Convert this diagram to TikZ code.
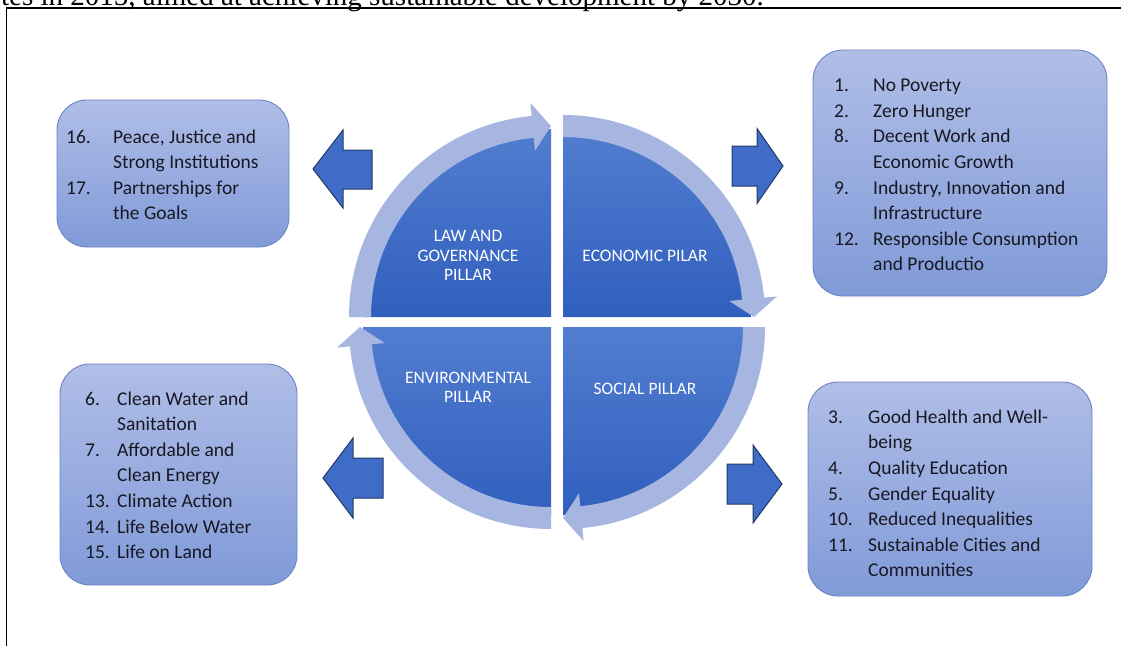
\documentclass[tikz,border=0pt]{standalone}
\usepackage{fontspec}
\setmainfont{Carlito}
\newfontfamily\serifdoc{Liberation Serif}
\definecolor{quadtop}{RGB}{82,125,208}
\definecolor{quadbot}{RGB}{48,95,189}
\definecolor{ringcol}{RGB}{166,182,224}
\definecolor{boxtop}{RGB}{176,190,231}
\definecolor{boxbot}{RGB}{128,154,216}
\definecolor{boxline}{RGB}{108,132,196}
\definecolor{arrfill}{RGB}{62,108,198}
\definecolor{arrline}{RGB}{36,56,102}
\definecolor{txt}{RGB}{24,24,34}
\begin{document}
\begin{tikzpicture}[x=1pt,y=1pt,
  box/.style={draw=boxline, line width=0.9pt, rounded corners=30pt, top color=boxtop, bottom color=boxbot, inner sep=0pt},
  lst/.style={anchor=base west, inner sep=0pt, text=txt, font=\fontsize{19.5}{25.6}\selectfont},
  lbl/.style={anchor=base, inner sep=0pt, text=white, font=\fontsize{17.5}{19.5}\selectfont},
  quad/.style={top color=quadtop, bottom color=quadbot},
  ring/.style={fill=ringcol},
  blk/.style={fill=arrfill, draw=arrline, line width=1pt, line join=miter}
]
\useasboundingbox (0,0) rectangle (1121,-646);

% cut-off caption line and frame
\node[anchor=base east, inner sep=0pt, font=\serifdoc\fontsize{29}{34}\selectfont] (cap) at (764,-5) {tes in 2015, aimed at achieving sustainable development by 2030.};
\draw[line width=1.3pt] (6.5,-646) -- (6.5,-8) -- (1121,-8);

% quadrants
\shade[quad] (551,-317) -- ++(180:188pt) arc[start angle=180, end angle=90, radius=188pt] -- cycle;
\shade[quad] (563,-317) -- ++(90:188pt) arc[start angle=90, end angle=0, radius=188pt] -- cycle;
\shade[quad] (563,-327) -- ++(0:188pt) arc[start angle=0, end angle=-90, radius=188pt] -- cycle;
\shade[quad] (551,-327) -- ++(-90:188pt) arc[start angle=-90, end angle=-180, radius=188pt] -- cycle;

% ring arrows
\begin{scope}[shift={(551,-317)}]
\fill[ring] (180:202pt) arc[start angle=180, end angle=95.5, radius=202pt] -- (95.5:215pt) -- (90:191pt) -- (95.5:167pt) -- (95.5:180pt) arc[start angle=95.5, end angle=180, radius=180pt] -- cycle;
\end{scope}
\begin{scope}[shift={(563,-317)}]
\fill[ring] (90:202pt) arc[start angle=90, end angle=5.5, radius=202pt] -- (5.5:215pt) -- (0:191pt) -- (5.5:167pt) -- (5.5:180pt) arc[start angle=5.5, end angle=90, radius=180pt] -- cycle;
\end{scope}
\begin{scope}[shift={(563,-327)}]
\fill[ring] (0:202pt) arc[start angle=0, end angle=-84.5, radius=202pt] -- (-84.5:215pt) -- (-90:191pt) -- (-84.5:167pt) -- (-84.5:180pt) arc[start angle=-84.5, end angle=0, radius=180pt] -- cycle;
\end{scope}
\begin{scope}[shift={(551,-327)}]
\fill[ring] (-90:202pt) arc[start angle=-90, end angle=-174.5, radius=202pt] -- (-174.5:215pt) -- (-180:191pt) -- (-174.5:167pt) -- (-174.5:180pt) arc[start angle=-174.5, end angle=-90, radius=180pt] -- cycle;
\end{scope}

% pillar labels
\node[lbl] (law) at (468,-241.7) {\begin{tabular}[t]{@{}c@{}}LAW AND\\GOVERNANCE\\PILLAR\end{tabular}};
\node[lbl] (eco) at (645,-261.7) {ECONOMIC PILAR};
\node[lbl] (env) at (468,-383.3) {\begin{tabular}[t]{@{}c@{}}ENVIRONMENTAL\\PILLAR\end{tabular}};
\node[lbl] (soc) at (645,-394) {SOCIAL PILLAR};

% block arrows
\filldraw[blk] (313,-169) -- (343,-130) -- (343,-150) -- (372,-150) -- (372,-189) -- (343,-189) -- (343,-208) -- cycle;
\filldraw[blk] (783,-166) -- (757,-128.5) -- (757,-146) -- (732,-146) -- (732,-186) -- (757,-186) -- (757,-203.5) -- cycle;
\filldraw[blk] (323,-478) -- (353,-438) -- (353,-458) -- (383,-458) -- (383,-498) -- (353,-498) -- (353,-518) -- cycle;
\filldraw[blk] (782,-484) -- (753,-445) -- (753,-464) -- (727,-464) -- (727,-504) -- (753,-504) -- (753,-523) -- cycle;

% boxes
\node[box, minimum width=232pt, minimum height=147pt] (b16) at (173,-173.5) {};
\node[box, minimum width=294pt, minimum height=246pt] (b1) at (960,-173) {};
\node[box, minimum width=237pt, minimum height=221pt] (b6) at (178.5,-474.5) {};
\node[box, minimum width=284pt, minimum height=214pt] (b3) at (950,-489) {};

% lists
\node[lst] (t16) at (66,-143) {\begin{tabular}[t]{@{}p{47pt}@{}l@{}}16. & Peace, Justice and\\ & Strong Institutions\\ 17. & Partnerships for\\ & the Goals\end{tabular}};
\node[lst] (t1) at (834,-91.7) {\begin{tabular}[t]{@{}p{39pt}@{}l@{}}1. & No Poverty\\ 2. & Zero Hunger\\ 8. & Decent Work and\\ & Economic Growth\\ 9. & Industry, Innovation and\\ & Infrastructure\\ 12. & Responsible Consumption\\ & and Productio\end{tabular}};
\node[lst] (t6) at (85,-405) {\begin{tabular}[t]{@{}p{32pt}@{}l@{}}6. & Clean Water and\\ & Sanitation\\ 7. & Affordable and\\ & Clean Energy\\ 13. & Climate Action\\ 14. & Life Below Water\\ 15. & Life on Land\end{tabular}};
\node[lst] (t3) at (828,-423.3) {\begin{tabular}[t]{@{}p{40pt}@{}l@{}}3. & Good Health and Well-\\ & being\\ 4. & Quality Education\\ 5. & Gender Equality\\ 10. & Reduced Inequalities\\ 11. & Sustainable Cities and\\ & Communities\end{tabular}};
\end{tikzpicture}
\end{document}
